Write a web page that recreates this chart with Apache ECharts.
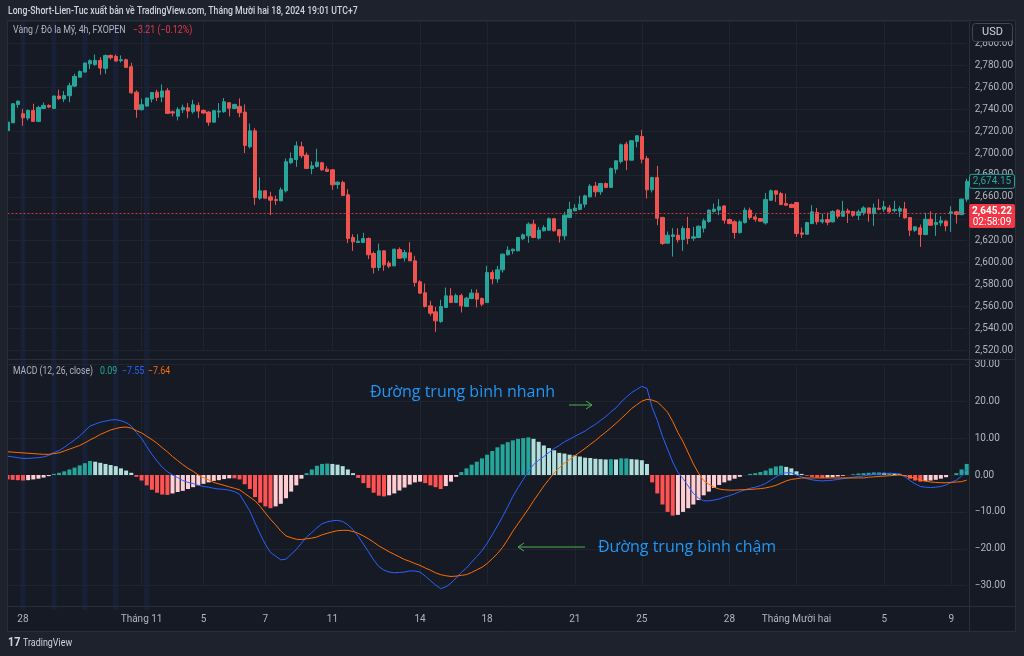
<!DOCTYPE html>
<html><head><meta charset="utf-8">
<script src="https://cdn.jsdelivr.net/npm/echarts@6/dist/echarts.min.js"></script>
<style>html,body{margin:0;padding:0;background:#1e222d;}#c{width:1024px;height:656px;}</style>
</head><body><div id="c"></div>
<script>
const opens=[2720.6,2727.6,2744.4,2735.9,2731.9,2738.9,2728.9,2740.7,2743.5,2740.7,2752.0,2749.3,2752.3,2761.1,2769.3,2773.9,2781.5,2780.9,2784.6,2777.3,2789.1,2788.2,2784.3,2785.2,2778.8,2755.6,2739.5,2742.9,2749.3,2755.6,2751.1,2756.9,2737.7,2733.7,2739.5,2741.3,2737.7,2743.5,2738.9,2737.4,2728.2,2737.4,2737.7,2745.9,2740.7,2742.6,2737.4,2705.7,2720.3,2658.8,2665.5,2660.0,2657.6,2656.4,2665.5,2691.1,2694.1,2705.7,2698.1,2685.9,2687.7,2691.1,2685.3,2684.7,2671.3,2673.1,2661.9,2622.9,2618.3,2618.3,2622.0,2608.3,2595.5,2610.7,2599.5,2597.0,2611.9,2604.3,2608.9,2601.6,2582.4,2572.4,2560.5,2555.0,2546.2,2559.0,2569.6,2563.5,2569.9,2559.9,2567.2,2572.1,2567.2,2563.5,2590.9,2585.1,2593.4,2607.1,2610.7,2610.7,2621.7,2624.4,2635.1,2622.3,2629.0,2629.6,2640.0,2629.9,2624.4,2641.2,2647.2,2648.5,2653.3,2660.0,2669.8,2664.6,2672.2,2668.6,2685.3,2692.3,2708.1,2693.5,2710.6,2715.1,2695.0,2666.4,2677.7,2641.2,2617.7,2623.8,2625.0,2621.1,2631.1,2622.3,2622.9,2631.4,2637.5,2646.6,2647.9,2651.7,2639.3,2637.2,2627.4,2636.5,2647.8,2641.7,2640.2,2636.2,2656.9,2665.5,2663.0,2653.9,2653.0,2654.8,2627.1,2625.9,2635.6,2645.7,2637.2,2639.3,2637.2,2647.8,2642.3,2647.2,2646.6,2643.2,2645.7,2649.9,2644.8,2649.6,2648.7,2649.9,2647.5,2646.9,2649.0,2641.1,2629.5,2631.7,2625.6,2639.6,2634.7,2636.2,2637.8,2644.8,2646.3,2643.9,2657.9];
const closes=[2728.2,2745.0,2747.4,2732.2,2738.9,2728.9,2741.6,2743.5,2742.0,2752.0,2749.6,2752.6,2761.4,2770.0,2774.5,2782.1,2784.3,2784.6,2777.6,2789.1,2787.0,2784.0,2785.2,2778.2,2755.0,2739.8,2744.1,2750.2,2755.3,2750.8,2756.6,2736.2,2736.5,2739.8,2741.6,2738.3,2744.1,2738.3,2736.5,2728.2,2738.6,2738.3,2746.8,2741.0,2744.4,2736.8,2706.9,2720.3,2659.4,2665.5,2658.8,2657.0,2656.7,2666.4,2692.0,2695.0,2706.6,2697.5,2685.9,2688.3,2691.7,2684.7,2683.2,2671.0,2673.4,2661.2,2622.0,2618.9,2619.5,2622.0,2607.1,2595.5,2610.7,2597.9,2596.7,2612.2,2604.0,2609.2,2601.6,2581.8,2572.1,2559.9,2553.8,2546.8,2559.9,2569.6,2563.5,2569.9,2560.5,2567.5,2572.1,2566.6,2562.0,2590.9,2585.1,2593.4,2607.7,2611.3,2612.2,2622.9,2625.3,2635.1,2622.9,2629.6,2632.0,2640.0,2629.0,2624.4,2643.3,2648.5,2649.7,2653.3,2660.9,2669.8,2664.6,2672.2,2668.6,2685.9,2692.9,2707.5,2693.5,2711.2,2715.7,2694.4,2666.4,2677.7,2640.5,2617.4,2625.0,2625.3,2620.8,2631.1,2622.0,2623.5,2633.2,2638.1,2647.9,2648.8,2650.9,2638.7,2635.6,2627.4,2637.2,2647.8,2641.1,2639.6,2637.8,2657.5,2665.5,2662.4,2653.0,2652.4,2650.2,2626.5,2625.9,2636.5,2646.3,2637.2,2639.0,2636.8,2646.6,2642.3,2646.9,2645.4,2643.2,2646.3,2649.9,2644.8,2649.9,2648.7,2650.9,2646.3,2648.4,2649.3,2640.8,2629.5,2632.6,2625.6,2639.6,2634.1,2636.5,2638.1,2633.5,2646.3,2643.9,2657.9,2674.2];
const highs=[2732.8,2745.5,2748.0,2740.4,2739.8,2745.0,2743.2,2746.2,2744.4,2752.6,2757.8,2756.6,2764.2,2772.4,2775.4,2782.7,2785.5,2790.0,2787.6,2790.0,2790.0,2790.0,2789.1,2786.1,2782.4,2757.2,2749.6,2750.6,2755.6,2757.8,2762.6,2759.3,2738.9,2741.9,2744.1,2745.6,2748.6,2746.2,2739.8,2738.3,2739.5,2745.6,2750.2,2746.5,2745.0,2749.9,2744.4,2727.0,2722.7,2677.7,2666.1,2664.6,2661.2,2668.6,2695.0,2700.5,2710.6,2710.3,2700.5,2692.3,2703.9,2692.0,2688.0,2685.3,2674.3,2674.9,2667.0,2625.9,2625.9,2627.2,2622.9,2610.1,2617.4,2611.3,2601.6,2612.8,2613.8,2611.6,2618.6,2606.2,2583.9,2580.9,2565.1,2559.6,2566.0,2577.2,2576.6,2571.7,2571.7,2568.7,2575.7,2575.7,2568.1,2597.0,2593.1,2597.0,2608.3,2614.9,2612.8,2623.5,2626.5,2636.6,2639.0,2632.6,2634.2,2641.2,2640.5,2630.5,2646.3,2655.5,2653.3,2661.0,2661.9,2671.6,2673.7,2672.8,2673.1,2686.8,2693.5,2708.7,2710.3,2711.8,2716.3,2721.2,2697.5,2678.3,2688.3,2641.8,2628.4,2631.4,2631.4,2633.2,2641.8,2632.6,2633.9,2640.2,2648.5,2653.9,2657.9,2652.4,2640.2,2638.7,2638.7,2650.2,2650.2,2643.9,2640.5,2663.6,2666.7,2666.1,2664.5,2663.0,2653.9,2655.4,2632.0,2637.2,2652.4,2649.9,2644.8,2645.7,2647.8,2648.7,2656.3,2649.3,2647.2,2648.4,2651.5,2650.2,2653.9,2657.9,2656.3,2652.4,2656.3,2651.5,2655.4,2641.5,2633.2,2634.7,2645.4,2646.9,2644.8,2642.3,2638.7,2651.5,2647.2,2658.5,2676.5];
const lows=[2717.6,2727.3,2741.3,2724.9,2729.8,2728.9,2728.2,2740.1,2741.0,2740.1,2748.6,2746.5,2746.5,2760.2,2769.0,2773.6,2776.7,2779.7,2771.5,2772.4,2785.2,2783.6,2782.7,2777.6,2754.0,2732.2,2738.9,2742.5,2746.2,2747.4,2746.5,2735.8,2733.4,2729.8,2736.5,2731.9,2735.9,2731.9,2735.9,2724.9,2727.9,2732.2,2736.8,2733.4,2740.1,2732.8,2700.0,2704.2,2652.7,2657.3,2658.5,2643.3,2652.7,2656.1,2664.0,2689.9,2687.4,2695.3,2685.6,2680.7,2686.8,2683.8,2682.9,2666.4,2667.3,2660.9,2617.7,2610.7,2618.0,2618.0,2603.1,2590.0,2592.5,2592.5,2594.9,2596.7,2603.4,2601.0,2601.3,2578.1,2571.5,2559.0,2551.4,2536.7,2545.0,2558.7,2563.2,2563.2,2554.4,2559.6,2566.6,2559.0,2560.2,2563.2,2580.3,2581.5,2590.9,2606.5,2607.7,2610.4,2620.8,2618.0,2622.3,2621.1,2628.4,2629.0,2628.4,2618.3,2620.8,2640.5,2647.0,2647.9,2650.3,2659.4,2660.0,2661.9,2667.9,2668.3,2681.3,2690.5,2684.4,2693.2,2705.1,2690.5,2658.5,2664.0,2634.2,2616.2,2617.4,2605.5,2618.3,2610.7,2616.8,2619.8,2622.3,2627.5,2636.3,2645.7,2643.3,2635.6,2635.0,2621.9,2626.5,2635.6,2639.3,2637.2,2637.5,2634.7,2656.3,2655.4,2652.4,2651.8,2649.9,2623.5,2622.5,2625.6,2635.0,2634.7,2635.6,2634.1,2636.5,2640.2,2641.7,2636.2,2641.7,2638.7,2643.2,2637.2,2633.5,2647.8,2646.3,2645.4,2645.7,2641.7,2640.2,2624.1,2628.0,2614.3,2625.0,2633.5,2624.4,2633.2,2628.6,2628.0,2635.6,2643.2,2655.5];

const signalLine=[6.3,6.2,6.1,6.0,5.9,5.8,5.7,5.6,5.6,5.8,6.0,6.5,7.0,7.5,8.0,8.7,9.5,10.2,11.0,11.6,12.2,12.6,12.9,13.0,12.7,12.0,11.4,10.5,9.6,8.6,7.4,6.3,5.0,3.9,2.8,1.8,1.0,0.0,-0.7,-1.3,-2.0,-2.4,-2.8,-3.2,-3.6,-4.0,-5.0,-6.0,-7.0,-8.5,-10.3,-12.0,-13.5,-15.2,-16.5,-17.0,-17.4,-17.5,-17.3,-17.1,-16.8,-16.2,-15.8,-15.4,-15.1,-15.0,-15.0,-15.3,-15.8,-16.5,-17.3,-18.2,-19.2,-20.0,-20.8,-21.5,-22.2,-22.9,-23.4,-24.0,-24.5,-25.2,-25.8,-26.5,-27.0,-27.3,-27.5,-27.4,-27.2,-27.0,-26.4,-25.7,-25.0,-24.0,-22.7,-21.3,-19.6,-17.5,-15.2,-13.2,-11.2,-9.2,-7.0,-5.0,-3.0,-1.2,0.5,2.0,3.2,4.2,5.2,6.2,7.2,8.3,9.3,10.5,11.6,12.8,14.0,15.3,16.6,18.0,19.0,20.0,20.5,20.3,19.8,18.5,17.0,14.5,11.5,9.0,6.0,3.0,0.5,-1.5,-2.5,-3.3,-3.8,-4.0,-4.1,-4.1,-4.0,-4.0,-3.9,-3.8,-3.7,-3.5,-3.2,-2.8,-2.2,-1.6,-1.2,-1.0,-0.8,-0.8,-0.8,-0.8,-0.8,-0.8,-0.8,-0.8,-0.8,-0.8,-0.8,-0.8,-0.8,-0.6,-0.5,-0.4,-0.3,-0.2,-0.1,0.0,-0.2,-0.5,-0.9,-1.3,-1.6,-1.9,-2.0,-2.1,-2.1,-2.0,-1.9,-1.8,-1.4];
const histogram=[-1.2,-1.3,-1.4,-1.5,-1.4,-1.2,-1.0,-0.7,-0.3,0.3,0.6,1.0,1.5,2.0,2.6,3.2,3.8,3.6,3.3,3.0,2.7,2.4,1.8,1.2,0.6,-0.5,-1.5,-2.8,-4.0,-4.8,-5.3,-5.4,-5.0,-4.6,-4.3,-3.8,-3.3,-2.8,-2.4,-2.0,-1.6,-1.4,-1.1,-0.9,-0.9,-1.2,-2.5,-3.8,-6.0,-7.5,-8.5,-9.0,-8.5,-7.8,-6.3,-4.5,-2.8,-1.0,0.5,1.5,2.5,3.0,3.1,3.0,2.8,2.4,1.5,0.5,-0.8,-2.2,-3.5,-4.8,-5.6,-5.8,-5.5,-5.0,-4.2,-3.4,-2.6,-2.0,-1.8,-2.2,-2.8,-3.3,-3.8,-3.0,-1.8,-0.5,0.8,1.8,2.8,3.6,4.5,5.5,6.5,7.5,8.3,8.9,9.4,9.8,10.0,10.2,9.8,9.0,8.0,7.3,6.7,6.0,5.8,5.5,5.3,5.0,4.7,4.6,4.4,4.3,4.2,4.3,4.2,4.5,4.5,4.3,4.2,4.0,3.0,-2.0,-5.0,-8.0,-10.0,-11.0,-10.8,-10.0,-9.0,-8.0,-6.8,-5.5,-4.5,-3.5,-2.7,-2.0,-1.5,-1.0,-0.5,0.0,0.3,0.5,0.8,1.2,1.8,2.3,2.5,2.2,1.8,1.0,0.3,-0.2,-0.5,-0.7,-0.8,-0.7,-0.6,-0.4,-0.2,0.0,0.2,0.4,0.5,0.6,0.7,0.7,0.6,0.6,0.5,0.3,-0.3,-1.0,-1.5,-1.8,-1.7,-1.5,-1.3,-1.0,-0.6,0.0,0.5,1.5,3.0];
const macdLine=[5.1,4.9,4.7,4.5,4.5,4.6,4.7,4.9,5.3,6.1,6.6,7.5,8.5,9.5,10.6,11.9,13.3,13.8,14.3,14.6,14.9,15.0,14.7,14.2,13.3,11.5,9.9,7.7,5.6,3.8,2.1,0.9,0.0,-0.7,-1.5,-2.0,-2.3,-2.8,-3.1,-3.3,-3.6,-3.8,-3.9,-4.1,-4.5,-5.2,-7.5,-9.8,-13.0,-16.0,-18.8,-21.0,-22.0,-23.0,-22.8,-21.5,-20.2,-18.5,-16.8,-15.6,-14.3,-13.2,-12.7,-12.4,-12.3,-12.6,-13.5,-14.8,-16.6,-18.7,-20.8,-23.0,-24.8,-25.8,-26.3,-26.5,-26.4,-26.3,-26.0,-26.0,-26.3,-27.4,-28.6,-29.8,-30.8,-30.3,-29.3,-27.9,-26.4,-25.2,-23.6,-22.1,-20.5,-18.5,-16.2,-13.8,-11.3,-8.6,-5.8,-3.4,-1.2,1.0,2.8,4.0,5.0,6.1,7.2,8.0,9.0,9.7,10.5,11.2,11.9,12.9,13.7,14.8,15.8,17.1,18.2,19.8,21.1,22.3,23.2,24.0,23.5,18.3,14.8,10.5,7.0,3.5,0.7,-1.0,-3.0,-5.0,-6.3,-7.0,-7.0,-6.8,-6.5,-6.0,-5.6,-5.1,-4.5,-4.0,-3.6,-3.3,-2.9,-2.3,-1.4,-0.5,0.3,0.6,0.6,0.0,-0.5,-1.0,-1.3,-1.5,-1.6,-1.5,-1.4,-1.2,-1.0,-0.8,-0.6,-0.4,-0.3,0.0,0.2,0.3,0.3,0.4,0.4,0.3,-0.5,-1.5,-2.4,-3.1,-3.3,-3.4,-3.3,-3.1,-2.7,-2.0,-1.4,-0.3,1.6];

const tickIndex=[3,26,38,50,63,80,93,110,123,140,153,170,183];
const tickLabels=['28','Tháng 11','5','7','11','14','18','21','25','28','Tháng Mười hai','5','9'];
const highlightBars=[3,9,15,21,27];
const lastPrice=2645.22, markPrice=2674.15;

const categories=opens.map((_,i)=>String(i));
const candleData=opens.map((o,i)=>[o,closes[i],lows[i],highs[i]]);
const tickSet=new Set(tickIndex);
const labelMap={}; tickIndex.forEach((t,k)=>labelMap[t]=tickLabels[k]);

const BG='#161a25', FRAME='#1e222d', GRID='#20242f', TXT='#b2b5be';
const FN="Roboto, sans-serif";
const UP='#26a69a', DOWN='#ef5350';

const chart=echarts.init(document.getElementById('c'),null,{renderer:'canvas'});
const fmtPrice=v=>v.toLocaleString('en-US',{minimumFractionDigits:2,maximumFractionDigits:2});
const fmtMacd=v=>(v<0?'\u2212':'')+Math.abs(v).toFixed(2);

const L=7.5, R=1024-966.7;
const option={
  backgroundColor:BG,
  animation:false,
  grid:[
    {left:L,right:R,top:21.6,height:328.6},
    {left:L,right:R,top:364.3,height:221.4}
  ],
  xAxis:[0,1].map(g=>({
    type:'category',gridIndex:g,data:categories,boundaryGap:false,
    axisLine:{show:false},axisTick:{show:false},
    axisLabel:{show:g===1,interval:(i)=>tickSet.has(i),formatter:(v)=>labelMap[Number(v)]||'',
      color:TXT,fontSize:10,fontFamily:FN,margin:29},
    splitLine:{show:true,interval:(i)=>tickSet.has(i),lineStyle:{color:GRID,width:1}}
  })),
  yAxis:[
    {type:'value',gridIndex:0,position:'right',min:2520,max:2820,interval:20,
      axisLine:{show:false},axisTick:{show:false},
      axisLabel:{color:TXT,fontSize:10,fontFamily:FN,margin:8,showMaxLabel:false,formatter:fmtPrice},
      splitLine:{lineStyle:{color:GRID}}},
    {type:'value',gridIndex:1,position:'right',min:-30,max:30,interval:10,
      axisLine:{show:false},axisTick:{show:false},
      axisLabel:{color:TXT,fontSize:10,fontFamily:FN,margin:8,formatter:fmtMacd},
      splitLine:{lineStyle:{color:GRID}}}
  ],
  series:[
    {type:'candlestick',xAxisIndex:0,yAxisIndex:0,data:candleData,barWidth:3.8,clip:false,
      itemStyle:{color:UP,color0:DOWN,borderColor:UP,borderColor0:DOWN,borderWidth:1},
      markLine:{silent:true,symbol:'none',label:{show:false},
        lineStyle:{color:'#f23645',type:[2,2],width:1,opacity:0.9},data:[{yAxis:lastPrice}]}},
    {type:'bar',xAxisIndex:1,yAxisIndex:1,data:histogram,barWidth:4,clip:false,
      itemStyle:{color:(p)=>{const i=p.dataIndex,v=histogram[i],pv=i>0?histogram[i-1]:v;
        if(v>=0) return v>=pv?'#26a69a':'#b2dfdb'; return v<=pv?'#ff5252':'#ffcdd2';}}},
    {type:'line',xAxisIndex:1,yAxisIndex:1,data:macdLine,showSymbol:false,clip:false,
      lineStyle:{color:'#2962ff',width:1},z:3},
    {type:'line',xAxisIndex:1,yAxisIndex:1,data:signalLine,showSymbol:false,clip:false,
      lineStyle:{color:'#ff6d00',width:1},z:3}
  ]
};
chart.setOption(option);

const xp=i=>chart.convertToPixel({xAxisIndex:0},categories[i]);
const yp=v=>chart.convertToPixel({yAxisIndex:0},v);
const band=xp(1)-xp(0);
const g=[];
function txt(x,y,text,fill,font,sx,extra){
  return Object.assign({type:'text',z:60,silent:true,x:x,y:y,scaleX:sx||1,
    style:Object.assign({x:0,y:0,text:text,fill:fill,font:font,verticalAlign:'middle'},extra||{})});
}
highlightBars.forEach(b=>g.push({type:'rect',z:-1,silent:true,shape:{x:xp(b)-band/2,y:20,width:band,height:590},style:{fill:'rgba(41,98,255,0.09)'}}));
// frame
g.push({type:'rect',z:50,shape:{x:0,y:0,width:1024,height:20},style:{fill:FRAME}});
g.push({type:'rect',z:50,shape:{x:0,y:632,width:1024,height:24},style:{fill:FRAME}});
g.push({type:'rect',z:50,shape:{x:0,y:0,width:7,height:656},style:{fill:FRAME}});
g.push({type:'rect',z:50,shape:{x:1016,y:0,width:8,height:656},style:{fill:FRAME}});
// separators
g.push({type:'line',z:40,shape:{x1:7,y1:359.5,x2:1016,y2:359.5},style:{stroke:'#2a2e39',lineWidth:1}});
g.push({type:'line',z:40,shape:{x1:969.5,y1:20,x2:969.5,y2:632},style:{stroke:'#2a2e39',lineWidth:1}});
g.push({type:'line',z:40,shape:{x1:7,y1:606.5,x2:1016,y2:606.5},style:{stroke:'#2a2e39',lineWidth:1}});
g.push({type:'rect',z:40,shape:{x:7.5,y:20.5,width:1008,height:611},style:{fill:'none',stroke:'#2a2e39',lineWidth:1}});
// header & legends
g.push(txt(8,11,'Long-Short-Lien-Tuc xuất bản về TradingView.com, Tháng Mười hai 18, 2024 19:01 UTC+7','#d1d4dc','500 11px '+FN,0.79));
g.push(txt(13,30,'Vàng / Đô la Mỹ, 4h, FXOPEN',TXT,'10.5px '+FN,0.84));
g.push(txt(133,30,'\u22123.21 (\u22120.12%)','#f23645','10.5px '+FN,0.84));
g.push(txt(13,371,'MACD (12, 26, close)',TXT,'10.5px '+FN,0.82));
g.push(txt(100,371,'0.09','#22ab94','10.5px '+FN,0.84));
g.push(txt(122,371,'\u22127.55','#2962ff','10.5px '+FN,0.84));
g.push(txt(148,371,'\u22127.64','#ff6d00','10.5px '+FN,0.84));
// USD box
g.push({type:'rect',z:60,shape:{x:972.5,y:23.5,width:40,height:18,r:3},style:{fill:BG,stroke:'#434651',lineWidth:1}});
g.push({type:'text',z:61,style:{x:992.5,y:32.5,text:'USD',fill:'#d1d4dc',font:'11px '+FN,align:'center',verticalAlign:'middle'}});
// price labels
const ym=yp(markPrice);
g.push({type:'rect',z:60,shape:{x:969.5,y:ym-7,width:45,height:14,r:2},style:{fill:BG,stroke:'#26a69a',lineWidth:1}});
g.push({type:'text',z:61,style:{x:992,y:ym,text:fmtPrice(markPrice),fill:'#26a69a',font:'10px '+FN,align:'center',verticalAlign:'middle'}});
const yl=yp(lastPrice);
g.push({type:'rect',z:60,shape:{x:969,y:yl-9,width:46,height:24,r:2},style:{fill:'#f23645'}});
g.push({type:'text',z:61,style:{x:992,y:yl-2,text:fmtPrice(lastPrice),fill:'#ffffff',font:'bold 10px '+FN,align:'center',verticalAlign:'middle'}});
g.push({type:'text',z:61,style:{x:992,y:yl+9,text:'02:58:09',fill:'#ffffff',font:'10px '+FN,align:'center',verticalAlign:'middle'}});
// annotations
g.push({type:'text',z:60,style:{x:370,y:392,text:'Đường trung bình nhanh',fill:'#2196f3',font:"16px 'Open Sans', sans-serif",verticalAlign:'middle'}});
g.push({type:'line',z:60,shape:{x1:569,y1:405,x2:592,y2:405},style:{stroke:'#4caf50',lineWidth:1}});
g.push({type:'polyline',z:60,shape:{points:[[586,401],[592,405],[586,409]]},style:{stroke:'#4caf50',lineWidth:1,fill:'none'}});
g.push({type:'text',z:60,style:{x:598,y:547,text:'Đường trung bình chậm',fill:'#2196f3',font:"16px 'Open Sans', sans-serif",verticalAlign:'middle'}});
g.push({type:'line',z:60,shape:{x1:518,y1:547,x2:585,y2:547},style:{stroke:'#4caf50',lineWidth:1}});
g.push({type:'polyline',z:60,shape:{points:[[524,543],[518,547],[524,551]]},style:{stroke:'#4caf50',lineWidth:1,fill:'none'}});
// logo
g.push(txt(8,643,'17','#d1d4dc','bold 12px '+FN,0.9));
g.push(txt(23,643,'TradingView','#d1d4dc','10.5px '+FN,0.85));
chart.setOption({graphic:{elements:g}});
</script></body></html>
